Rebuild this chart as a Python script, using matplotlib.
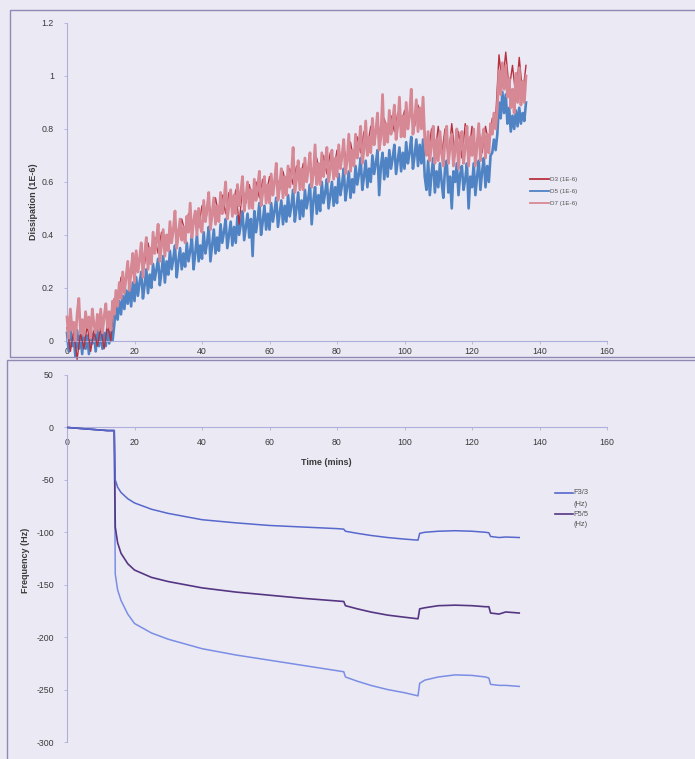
import matplotlib
matplotlib.use("Agg")
import matplotlib.pyplot as plt
from matplotlib.lines import Line2D
from matplotlib.patches import Rectangle

plt.rcParams["font.family"] = ["Liberation Sans", "DejaVu Sans"]
plt.rcParams["axes.unicode_minus"] = False

W, H = 695, 759
BG = "#ebe9f4"
FRAME = "#8e8ab4"
AXIS = "#aeb0dc"
TXT = "#3a3a3a"

# ---- dissipation ----
# D5 and D7 read every half minute, D3 (mostly hidden under D7) every minute
half_time = [i / 2 for i in range(273)]
d3_time = list(range(137))

d3 = [0.05, -0.04, 0.04, -0.07, 0.03, -0.03, 0.06, -0.04, 0.04, -0.02,
      0.05, -0.03, 0.06, 0.0, 0.16, 0.14, 0.24, 0.21, 0.28, 0.24,
      0.31, 0.26, 0.34, 0.29, 0.37, 0.31, 0.39, 0.33, 0.41, 0.35,
      0.36, 0.38, 0.45, 0.39, 0.46, 0.41, 0.48, 0.42, 0.49, 0.43,
      0.51, 0.45, 0.52, 0.46, 0.54, 0.47, 0.55, 0.48, 0.56, 0.49,
      0.57, 0.44, 0.58, 0.52, 0.59, 0.53, 0.60, 0.54, 0.61, 0.55,
      0.62, 0.56, 0.63, 0.57, 0.64, 0.58, 0.65, 0.59, 0.66, 0.60,
      0.67, 0.61, 0.68, 0.62, 0.69, 0.62, 0.70, 0.63, 0.71, 0.64,
      0.72, 0.66, 0.73, 0.67, 0.75, 0.68, 0.77, 0.71, 0.79, 0.73,
      0.81, 0.75, 0.83, 0.76, 0.84, 0.78, 0.85, 0.79, 0.86, 0.80,
      0.87, 0.81, 0.88, 0.81, 0.89, 0.82, 0.79, 0.70, 0.80, 0.70,
      0.81, 0.70, 0.80, 0.69, 0.82, 0.70, 0.79, 0.69, 0.82, 0.70,
      0.81, 0.70, 0.80, 0.71, 0.81, 0.74, 0.84, 0.84, 1.08, 0.96,
      1.09, 0.95, 1.04, 0.92, 1.07, 0.93, 1.04]

d5 = [0.03, -0.04, 0.05, -0.02, 0.01, -0.06, 0.04, -0.03, 0.02, -0.05,
      0.04, -0.03, 0.02, -0.05, 0.05, -0.01, 0.03, -0.04, 0.04, -0.02,
      0.05, -0.03, 0.03, -0.02, 0.06, -0.01, 0.04, 0.0, 0.06, 0.13,
      0.08, 0.15, 0.10, 0.17, 0.12, 0.19, 0.14, 0.21, 0.13, 0.22,
      0.15, 0.24, 0.17, 0.22, 0.26, 0.16, 0.21, 0.27, 0.18, 0.25,
      0.20, 0.29, 0.23, 0.27, 0.31, 0.21, 0.26, 0.32, 0.22, 0.30,
      0.25, 0.34, 0.27, 0.31, 0.36, 0.24, 0.30, 0.35, 0.27, 0.33,
      0.28, 0.37, 0.30, 0.34, 0.39, 0.27, 0.33, 0.40, 0.30, 0.36,
      0.31, 0.41, 0.33, 0.37, 0.43, 0.30, 0.36, 0.42, 0.33, 0.39,
      0.34, 0.44, 0.37, 0.41, 0.46, 0.35, 0.40, 0.45, 0.36, 0.43,
      0.37, 0.47, 0.40, 0.44, 0.49, 0.38, 0.43, 0.48, 0.39, 0.46,
      0.32, 0.49, 0.41, 0.46, 0.52, 0.40, 0.45, 0.51, 0.42, 0.48,
      0.42, 0.52, 0.45, 0.49, 0.54, 0.43, 0.48, 0.53, 0.44, 0.51,
      0.45, 0.55, 0.47, 0.51, 0.57, 0.45, 0.50, 0.56, 0.46, 0.53,
      0.47, 0.57, 0.50, 0.54, 0.59, 0.44, 0.53, 0.58, 0.48, 0.55,
      0.49, 0.60, 0.52, 0.56, 0.61, 0.50, 0.55, 0.60, 0.51, 0.58,
      0.52, 0.63, 0.55, 0.59, 0.65, 0.53, 0.58, 0.64, 0.54, 0.61,
      0.56, 0.66, 0.59, 0.63, 0.69, 0.57, 0.62, 0.68, 0.58, 0.65,
      0.60, 0.70, 0.63, 0.67, 0.72, 0.55, 0.66, 0.71, 0.61, 0.69,
      0.62, 0.72, 0.65, 0.69, 0.74, 0.63, 0.68, 0.73, 0.64, 0.71,
      0.65, 0.75, 0.67, 0.71, 0.77, 0.65, 0.70, 0.76, 0.66, 0.74,
      0.67, 0.76, 0.62, 0.57, 0.68, 0.55, 0.63, 0.69, 0.56, 0.64,
      0.58, 0.67, 0.60, 0.54, 0.65, 0.68, 0.56, 0.62, 0.50, 0.64,
      0.60, 0.67, 0.55, 0.63, 0.66, 0.57, 0.61, 0.67, 0.50, 0.62,
      0.58, 0.67, 0.55, 0.62, 0.68, 0.57, 0.64, 0.69, 0.58, 0.66,
      0.60, 0.70, 0.71, 0.76, 0.72, 0.78, 0.90, 0.84, 0.94, 0.86,
      0.93, 0.82, 0.88, 0.79, 0.85, 0.80, 0.87, 0.81, 0.88, 0.82,
      0.86, 0.83, 0.90]

d7 = [0.09, 0.01, 0.12, 0.04, 0.07, 0.0, 0.10, 0.16, 0.03, 0.08,
      0.02, 0.11, 0.05, 0.09, 0.01, 0.12, 0.06, 0.03, 0.10, 0.04,
      0.12, 0.03, 0.09, 0.14, 0.05, 0.11, 0.04, 0.15, 0.10, 0.19,
      0.13, 0.22, 0.16, 0.26, 0.18, 0.24, 0.30, 0.19, 0.27, 0.33,
      0.22, 0.34, 0.26, 0.31, 0.37, 0.24, 0.33, 0.39, 0.27, 0.35,
      0.29, 0.41, 0.33, 0.38, 0.44, 0.30, 0.36, 0.42, 0.32, 0.40,
      0.34, 0.45, 0.37, 0.42, 0.49, 0.35, 0.40, 0.46, 0.38, 0.43,
      0.37, 0.47, 0.41, 0.52, 0.39, 0.45, 0.49, 0.40, 0.50, 0.43,
      0.41, 0.53, 0.45, 0.50, 0.56, 0.42, 0.48, 0.54, 0.44, 0.51,
      0.45, 0.56, 0.48, 0.53, 0.60, 0.46, 0.51, 0.57, 0.47, 0.55,
      0.48, 0.59, 0.51, 0.56, 0.62, 0.49, 0.54, 0.60, 0.50, 0.57,
      0.50, 0.61, 0.53, 0.58, 0.64, 0.51, 0.56, 0.62, 0.52, 0.59,
      0.52, 0.63, 0.55, 0.60, 0.67, 0.53, 0.58, 0.65, 0.54, 0.62,
      0.55, 0.66, 0.58, 0.63, 0.73, 0.56, 0.61, 0.68, 0.57, 0.65,
      0.57, 0.69, 0.60, 0.65, 0.71, 0.58, 0.63, 0.74, 0.59, 0.67,
      0.59, 0.71, 0.62, 0.67, 0.73, 0.60, 0.65, 0.72, 0.61, 0.69,
      0.62, 0.74, 0.65, 0.70, 0.76, 0.63, 0.68, 0.78, 0.64, 0.72,
      0.66, 0.78, 0.69, 0.74, 0.81, 0.67, 0.72, 0.83, 0.70, 0.77,
      0.71, 0.84, 0.74, 0.79, 0.86, 0.72, 0.77, 0.93, 0.74, 0.82,
      0.75, 0.87, 0.78, 0.83, 0.89, 0.76, 0.81, 0.92, 0.77, 0.85,
      0.77, 0.90, 0.80, 0.85, 0.95, 0.78, 0.83, 0.91, 0.79, 0.88,
      0.80, 0.92, 0.76, 0.70, 0.79, 0.68, 0.74, 0.81, 0.67, 0.76,
      0.68, 0.79, 0.71, 0.66, 0.76, 0.81, 0.67, 0.73, 0.78, 0.66,
      0.72, 0.80, 0.65, 0.75, 0.79, 0.67, 0.73, 0.81, 0.66, 0.77,
      0.70, 0.80, 0.66, 0.74, 0.82, 0.68, 0.76, 0.80, 0.69, 0.78,
      0.71, 0.82, 0.78, 0.86, 0.80, 0.88, 1.02, 0.93, 1.05, 0.95,
      1.04, 0.92, 0.99, 0.88, 0.95, 0.86, 1.01, 0.90, 1.03, 0.89,
      0.98, 0.90, 1.00]

# ---- frequency ----
f_time = [0, 4, 8, 12, 14, 14.3, 15, 16, 18, 20, 25, 30, 40, 50, 60, 70,
          80, 82, 82.5, 86, 90, 95, 100, 104, 104.5, 106, 110, 115, 120,
          124, 125, 125.5, 128, 130, 134]
f3 = [0, -1, -2, -3, -3, -50, -57, -62, -68, -72, -78, -82, -88, -91,
      -93.5, -95, -96.5, -97, -99, -101, -103, -105, -106.5, -107.5, -101,
      -100, -99, -98.5, -99, -100, -100.5, -104, -105, -104.5, -105]
f5 = [0, -1, -2, -3, -3, -95, -110, -120, -130, -136, -143, -147, -153,
      -157, -160, -163, -165.5, -166, -170, -173, -176, -179, -181, -182.5,
      -173, -172, -170, -169.5, -170, -171, -171, -177, -178, -176, -177]
f7 = [0, -1, -2, -3, -3, -140, -155, -165, -178, -187, -196, -202, -211,
      -217, -222, -227, -232, -233, -238, -242, -246, -250, -253, -256,
      -244, -241, -238, -236, -236.5, -238, -239, -245, -246, -246, -247]

x_ticks = [0, 20, 40, 60, 80, 100, 120, 140, 160]
d_ticks = [0, 0.2, 0.4, 0.6, 0.8, 1.0, 1.2]
d_labels = ["0", "0.2", "0.4", "0.6", "0.8", "1", "1.2"]
f_ticks = [-300, -250, -200, -150, -100, -50, 0, 50]


def fx(px):
    return px / W


def fy(py):
    return 1 - py / H


fig = plt.figure(figsize=(W / 100, H / 100), dpi=100, facecolor=BG)

# panel frames
fig.add_artist(Rectangle((fx(10), fy(357)), fx(700) - fx(10), fy(10) - fy(357),
                         transform=fig.transFigure, fill=False, ec=FRAME, lw=1.0))
fig.add_artist(Rectangle((fx(7), fy(770)), fx(700) - fx(7), fy(360) - fy(770),
                         transform=fig.transFigure, fill=False, ec=FRAME, lw=1.0))


def style(ax, ylo, yhi):
    ax.set_facecolor("none")
    ax.set_xlim(0, 160)
    for s in ("top", "right"):
        ax.spines[s].set_visible(False)
    ax.spines["left"].set_bounds(ylo, yhi)
    ax.spines["bottom"].set_position(("data", 0))
    ax.spines["bottom"].set_bounds(0, 160)
    for s in ("left", "bottom"):
        ax.spines[s].set_color(AXIS)
        ax.spines[s].set_linewidth(0.8)
    ax.tick_params(colors=AXIS, labelcolor=TXT, labelsize=6.3, length=2.5, width=0.6)
    ax.tick_params(axis="y", pad=7)
    ax.set_xticks(x_ticks)


# top: dissipation
ax1 = fig.add_axes([fx(67), fy(362), fx(607) - fx(67), fy(23) - fy(362)])
ax1.set_ylim(-0.08, 1.2)
style(ax1, 0, 1.2)
ax1.set_yticks(d_ticks, d_labels)
ax1.tick_params(axis="x", pad=2)
l5, = ax1.plot(half_time, d5, color="#4f83c4", lw=1.9, zorder=2)
l3, = ax1.plot(d3_time, d3, color="#b8303e", lw=1.0, zorder=3)
l7, = ax1.plot(half_time, d7, color="#d68894", lw=2.0, zorder=4)
for ln in (l3, l5, l7):
    ln.set_clip_on(False)
ax1.legend([Line2D([], [], color=c, lw=1.3) for c in ("#b8303e", "#4f83c4", "#d68894")],
           ["D3 (1E-6)", "D5 (1E-6)", "D7 (1E-6)"],
           loc="upper left", bbox_to_anchor=(fx(530), fy(177)),
           bbox_transform=fig.transFigure, frameon=False, fontsize=4.5,
           handlelength=3.0, handletextpad=0.2, labelspacing=1.05,
           borderpad=0, borderaxespad=0, labelcolor="#555555")

# bottom: frequency
ax2 = fig.add_axes([fx(67), fy(742), fx(607) - fx(67), fy(375) - fy(742)])
ax2.set_ylim(-300, 50)
style(ax2, -300, 50)
ax2.set_yticks(f_ticks)
ax2.tick_params(axis="x", pad=5)
ax2.plot(f_time, f7, color="#7a8ee4", lw=1.1, zorder=2)
ax2.plot(f_time, f5, color="#553683", lw=1.2, zorder=3)
ax2.plot(f_time, f3, color="#5668cc", lw=1.1, zorder=4)

fig.text(fx(33), fy(202), "Dissipation (1E-6)", rotation=90, ha="center", va="center",
         fontsize=6.5, fontweight="bold", color=TXT)
fig.text(fx(26), fy(560), "Frequency (Hz)", rotation=90, ha="center", va="center",
         fontsize=6.5, fontweight="bold", color=TXT)
fig.text(fx(326), fy(462), "Time (mins)", ha="center", va="center",
         fontsize=6.5, fontweight="bold", color=TXT)

# bottom legend (labels wrap onto two lines like the original)
for py, name, col in [(493, "F3/3", "#5668cc"), (514, "F5/5", "#553683")]:
    fig.add_artist(Line2D([fx(555), fx(573)], [fy(py), fy(py)], color=col, lw=1.2,
                          transform=fig.transFigure))
    fig.text(fx(573), fy(py), name, ha="left", va="center", fontsize=5.4, color="#505050")
    fig.text(fx(574), fy(py + 11), "(Hz)", ha="left", va="center", fontsize=5.4, color="#505050")

fig.savefig("out.png", dpi=100, facecolor=BG)
